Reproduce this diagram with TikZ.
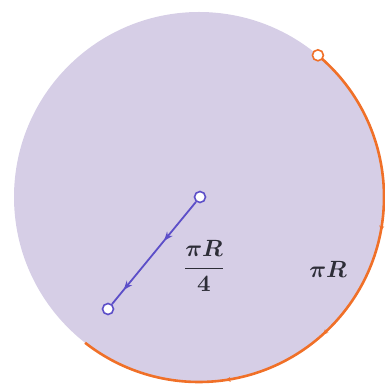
\documentclass[tikz,border=0pt]{standalone}
\usepackage{amsmath}
\usetikzlibrary{decorations.markings,arrows.meta}
\definecolor{disk}{RGB}{214,206,230}
\definecolor{arcorange}{RGB}{240,112,40}
\definecolor{segblue}{RGB}{92,78,200}
\definecolor{txt}{RGB}{45,45,55}
\tikzset{
  opendot/.style={circle,draw=segblue,fill=white,line width=1.6pt,minimum size=11pt,inner sep=0pt},
  orangedot/.style={circle,draw=arcorange,fill=white,line width=1.6pt,minimum size=11pt,inner sep=0pt},
  lbl/.style={text=txt,scale=2.35,font=\boldmath},
  seg/.style={draw=segblue,line width=1.8pt,
    postaction={decorate,decoration={markings,
      mark=at position 0.38 with {\arrow{Stealth[length=9pt,width=7pt]}},
      mark=at position 0.86 with {\arrow{Stealth[length=9pt,width=7pt]}}}}},
  arcline/.style={draw=arcorange,line width=2.6pt,
    postaction={decorate,decoration={markings,
      mark=at position 0.34 with {\arrow{Stealth[length=5pt,width=5pt]}},
      mark=at position 0.55 with {\arrow{Stealth[length=5pt,width=5pt]}},
      mark=at position 0.74 with {\arrow{Stealth[length=5pt,width=5pt]}}}}}
}
\begin{document}
\begin{tikzpicture}[x=1pt,y=1pt]
\useasboundingbox (0,0) rectangle (384,385);
\coordinate (O) at (199,188);
\fill[disk] (O) circle (185);
\draw[arcline] ([shift={(50:185)}]O) arc[start angle=50,end angle=-128,radius=185];
\node[orangedot] (P) at ([shift={(50:185)}]O) {};
\node[opendot] (A) at (200,188) {};
\node[opendot] (B) at (108,76) {};
\draw[seg] (A) -- (B);
\node[lbl] (frac) at (204,119) {$\displaystyle\frac{\pi R}{4}$};
\node[lbl] (piR) at (328,116) {$\pi R$};
\end{tikzpicture}
\end{document}
